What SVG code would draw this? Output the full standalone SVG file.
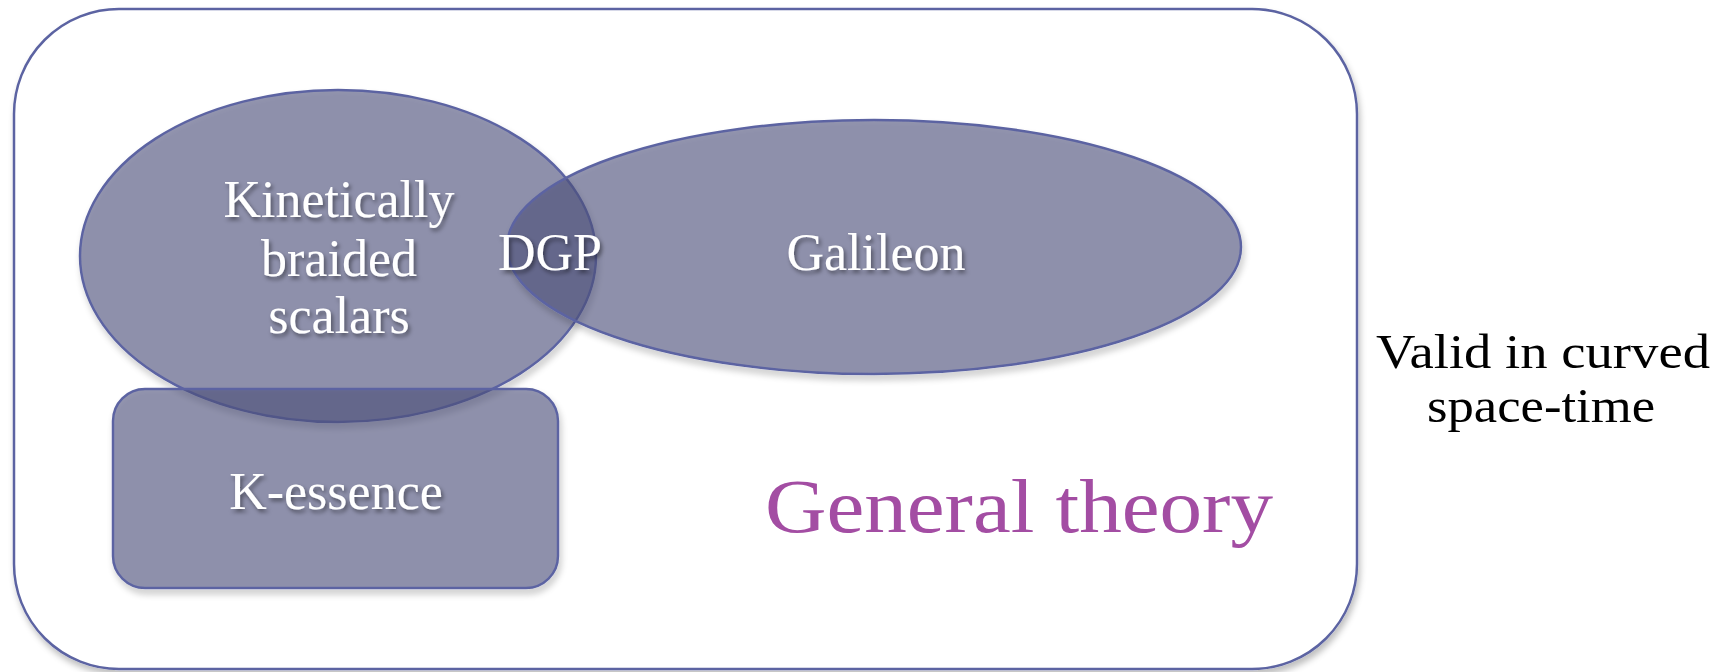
<svg xmlns="http://www.w3.org/2000/svg" width="1720" height="672" viewBox="0 0 1720 672">
<defs>
<filter id="sh" x="-10%" y="-10%" width="120%" height="130%">
<feGaussianBlur in="SourceAlpha" stdDeviation="3" result="b"/>
<feOffset in="b" dx="2" dy="5" result="o"/>
<feFlood flood-color="#000" flood-opacity="0.25"/>
<feComposite in2="o" operator="in" result="s"/>
<feComposite in="s" in2="SourceAlpha" operator="out" result="so"/>
<feMerge><feMergeNode in="so"/><feMergeNode in="SourceGraphic"/></feMerge>
</filter>
<filter id="tsh" x="-10%" y="-20%" width="120%" height="150%">
<feDropShadow dx="2" dy="3" stdDeviation="2" flood-color="#000" flood-opacity="0.45"/>
</filter>
<style>
.shape{fill:#4D4E7B;fill-opacity:0.6;stroke:#5C64A2;stroke-width:2.5;filter:url(#sh)}
.lbl{font-family:"Liberation Serif",serif;font-size:52px;fill:#fff;text-anchor:middle;filter:url(#tsh)}
.blk{font-family:"Liberation Serif",serif;font-size:48px;fill:#000;text-anchor:middle}
</style>
</defs>
<g id="outer">
<rect x="14" y="9" width="1343" height="660" rx="105" ry="105" fill="#fff" stroke="#5C64A2" stroke-width="2.5" filter="url(#sh)"/>
</g>
<g id="kinetic">
<ellipse class="shape" cx="338" cy="256" rx="258" ry="166"/>
</g>
<g id="galileon">
<ellipse class="shape" cx="874" cy="247" rx="367" ry="127"/>
</g>
<g id="kessence">
<rect class="shape" x="113" y="389" width="445" height="199" rx="32" ry="32"/>
</g>
<g id="labels">
<text class="lbl" x="339" y="217">Kinetically</text>
<text class="lbl" x="339" y="276">braided</text>
<text class="lbl" x="339" y="333">scalars</text>
<text class="lbl" x="550" y="270">DGP</text>
<text class="lbl" x="876" y="270">Galileon</text>
<text class="lbl" x="336" y="509">K-essence</text>
</g>
<g id="general">
<text x="765" y="532" font-family="Liberation Serif, serif" font-size="76" fill="#A34DA3" textLength="508" lengthAdjust="spacingAndGlyphs">General theory</text>
</g>
<g id="valid">
<text class="blk" x="1543" y="368" textLength="334" lengthAdjust="spacingAndGlyphs">Valid in curved</text>
<text class="blk" x="1541" y="422" textLength="228" lengthAdjust="spacingAndGlyphs">space-time</text>
</g>
<g id="connectors"/>
</svg>
